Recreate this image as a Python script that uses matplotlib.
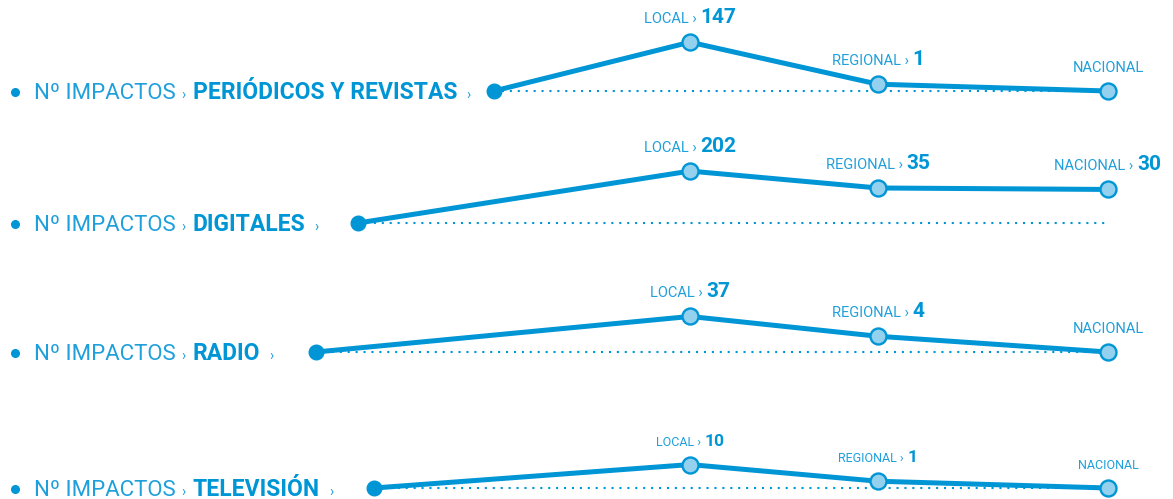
import numpy as np
import matplotlib
matplotlib.use("Agg")
import matplotlib.pyplot as plt

# datos
medios = ["PERIÓDICOS Y REVISTAS", "DIGITALES", "RADIO", "TELEVISIÓN"]
ambitos = ["LOCAL", "REGIONAL", "NACIONAL"]
local = [147, 202, 37, 10]
regional = [1, 35, 4, 1]
nacional = [0, 30, 0, 0]

AZUL = "#0096d6"
AZUL_TXT = "#1f9fdb"
AZUL_CLARO = "#94d1ef"
FUENTE = ["Roboto", "DejaVu Sans"]

W, H = 1173, 499
fig = plt.figure(figsize=(W / 100, H / 100), dpi=100)
ax = fig.add_axes([0, 0, 1, 1])
ax.set_xlim(0, W); ax.set_ylim(H, 0)
ax.axis("off")
renderer = fig.canvas.get_renderer()

# maqueta (pixeles)
y_base = [91, 223, 352, 488]
x_ini = [494, 358, 316, 374]
x_amb = [690, 878, 1108]
k = 22.5  # pixeles por decada (escala log)


def ancho(t):
    return t.get_window_extent(renderer).width


def piezas(x, y, lista, centrado=False):
    # lista: (texto, tamaño, peso, color, hueco antes en px)
    ts = []
    for txt, fs, w, c, g in lista:
        t = ax.text(0, y, txt, fontsize=fs, fontweight=w, color=c,
                    family=FUENTE, va="baseline", ha="left")
        ts.append((t, g))
    total = sum(ancho(t) + g for t, g in ts)
    cx = x - total / 2 if centrado else x
    for t, g in ts:
        cx += g
        t.set_x(cx)
        cx += ancho(t)
    return cx


for i, medio in enumerate(medios):
    y0 = y_base[i]
    vals = [local[i], regional[i], nacional[i]]
    # etiqueta izquierda
    ax.plot(15, y0 + 1, "o", color=AZUL, markersize=5.5)
    piezas(34, y0 + 8, [("Nº IMPACTOS", 16, "normal", AZUL_TXT, 0),
                        ("›", 10, "normal", AZUL_TXT, 6),
                        (medio, 16.5, "bold", AZUL, 7),
                        ("›", 10, "normal", AZUL_TXT, 9)])
    # linea punteada de base
    ax.plot([x_ini[i], x_amb[-1] + 2], [y0, y0], color=AZUL, lw=1.5,
            linestyle=(0, (1, 2.8)), zorder=1)
    xs = [x_ini[i]] + x_amb
    ys = [y0] + [y0 - k * np.log10(v + 1) for v in vals]
    ax.plot(xs, ys, color=AZUL, lw=3.6, solid_capstyle="round", zorder=2)
    ax.plot(x_ini[i], y0, "o", color=AZUL, markersize=10.5, zorder=3)
    ax.plot(x_amb, ys[1:], "o", markerfacecolor=AZUL_CLARO,
            markeredgecolor=AZUL, markeredgewidth=1.7, markersize=11.5, zorder=3)
    fs1, fs2 = (9, 12.5) if i == 3 else (10.5, 15)
    for j, amb in enumerate(ambitos):
        v = vals[j]
        if v > 0:
            lista = [(amb + " ›", fs1, "normal", AZUL_TXT, 0),
                     (str(v), fs2, "bold", AZUL, 4)]
        else:
            lista = [(amb, fs1, "normal", AZUL_TXT, 0)]
        piezas(x_amb[j], ys[j + 1] - 19, lista, centrado=True)

fig.savefig("out.png", dpi=100)
